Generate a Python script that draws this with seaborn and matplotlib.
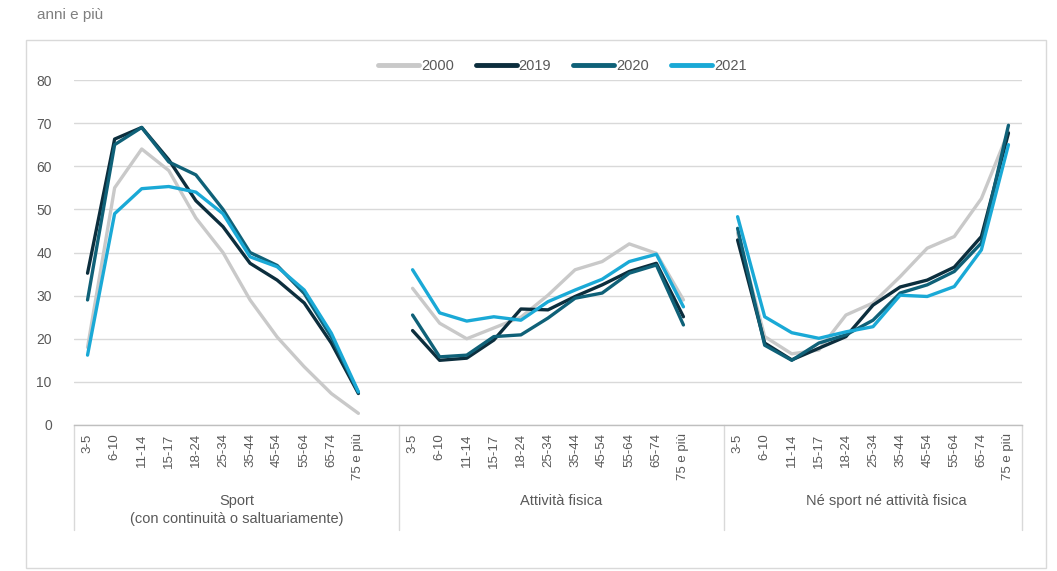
import matplotlib
matplotlib.use("Agg")
import matplotlib.pyplot as plt
import matplotlib.transforms as mtransforms
import seaborn as sns
import pandas as pd
import numpy as np

# ---------------- data ----------------
age_classes = ["3-5", "6-10", "11-14", "15-17", "18-24", "25-34",
               "35-44", "45-54", "55-64", "65-74", "75 e più"]
groups = ["Sport\n(con continuità o saltuariamente)",
          "Attività fisica",
          "Né sport né attività fisica"]
years = ["2000", "2019", "2020", "2021"]

sport_2000 = [18.0, 55.0, 64.0, 59.0, 48.0, 40.0, 29.0, 20.4, 13.5, 7.3, 2.7]
sport_2019 = [35.2, 66.3, 69.0, 61.5, 52.0, 46.0, 37.5, 33.6, 28.3, 19.0, 7.3]
sport_2020 = [29.0, 65.0, 69.0, 61.0, 58.0, 50.0, 40.0, 37.0, 30.5, 20.4, 7.5]
sport_2021 = [16.2, 49.0, 54.8, 55.3, 54.0, 49.0, 39.0, 36.7, 31.3, 21.3, 7.7]

fis_2000 = [31.7, 23.6, 20.0, 22.5, 25.0, 30.1, 36.0, 37.9, 42.0, 39.8, 29.0]
fis_2019 = [21.9, 15.0, 15.5, 19.7, 26.9, 26.7, 29.8, 32.5, 35.6, 37.5, 25.1]
fis_2020 = [25.5, 15.8, 16.2, 20.5, 20.9, 24.8, 29.4, 30.6, 35.2, 37.1, 23.2]
fis_2021 = [36.0, 26.0, 24.1, 25.1, 24.3, 28.6, 31.3, 33.8, 37.9, 39.6, 27.4]

ne_2000 = [44.5, 20.5, 16.5, 17.4, 25.5, 28.3, 34.4, 41.0, 43.7, 52.5, 68.0]
ne_2019 = [42.9, 19.0, 15.1, 17.8, 20.5, 27.8, 32.0, 33.6, 36.6, 43.7, 67.7]
ne_2020 = [45.6, 18.5, 15.0, 19.0, 20.9, 24.3, 30.6, 32.5, 35.6, 42.2, 69.5]
ne_2021 = [48.3, 25.1, 21.4, 20.1, 21.6, 22.8, 30.1, 29.8, 32.1, 40.6, 65.0]

y_ticks = [0, 10, 20, 30, 40, 50, 60, 70, 80]
title_text = "anni e più"

palette = {"2000": "#C9C9C9", "2019": "#0C2E3D", "2020": "#0F6178", "2021": "#1AA9D6"}

series = {
    0: [sport_2000, sport_2019, sport_2020, sport_2021],
    1: [fis_2000, fis_2019, fis_2020, fis_2021],
    2: [ne_2000, ne_2019, ne_2020, ne_2021],
}

slot = len(age_classes) + 1  # one blank category between groups
rows = []
for g, lists in series.items():
    for yr, vals in zip(years, lists):
        for i, v in enumerate(vals):
            rows.append({"pos": g * slot + i, "value": v, "year": yr,
                         "group": g, "age": age_classes[i]})
df = pd.DataFrame(rows)

# ---------------- figure ----------------
sns.set_theme(style="white")
plt.rcParams["font.family"] = ["Liberation Sans", "DejaVu Sans"]
txt_col = "#595959"

fig = plt.figure(figsize=(10.57, 5.71), dpi=100)
W, H = 1057, 571
ax = fig.add_axes([74 / W, 1 - 425 / H, (1022 - 74) / W, (425 - 80) / H])

# outer chart frame
fig.patches.append(plt.Rectangle((26 / W, 1 - 568 / H), (1046 - 26) / W, (568 - 40) / H,
                                 transform=fig.transFigure, fill=False,
                                 edgecolor="#D9D9D9", linewidth=1.0, zorder=0))

sns.lineplot(data=df, x="pos", y="value", hue="year", units="group",
             estimator=None, palette=palette, hue_order=years,
             linewidth=2.4, sort=False, ax=ax, legend=True)

ax.set_xlim(-0.5, 3 * slot - 1.5)
ax.set_ylim(0, 80)
ax.set_yticks(y_ticks)
ax.set_yticklabels([str(t) for t in y_ticks], fontsize=10, color=txt_col)
ax.yaxis.grid(True, color="#D9D9D9", linewidth=1.0)
ax.set_axisbelow(True)
for s in ["left", "right", "top"]:
    ax.spines[s].set_visible(False)
ax.spines["bottom"].set_color("#BFBFBF")
ax.spines["bottom"].set_linewidth(1.0)
ax.set_xlabel("")
ax.set_ylabel("")

xt = []
xl = []
for g in range(3):
    for i, a in enumerate(age_classes):
        xt.append(g * slot + i)
        xl.append(a)
ax.set_xticks(xt)
ax.set_xticklabels(xl, rotation=90, fontsize=9.5, color=txt_col)
ax.tick_params(axis="x", length=0, pad=6)
ax.tick_params(axis="y", length=0, pad=16)

# category separators and group labels
trans = mtransforms.blended_transform_factory(ax.transData, ax.transAxes)
bottom_frac = -(530 - 425) / (425 - 80)
for xb in [-0.5, slot - 0.5, 2 * slot - 0.5, 3 * slot - 1.5]:
    ax.plot([xb, xb], [0, bottom_frac], transform=trans, color="#D9D9D9",
            linewidth=1.0, clip_on=False)
label_y = -(494 - 425) / (425 - 80)
for g, name in enumerate(groups):
    ax.text(g * slot + 5.5, label_y, name, transform=trans, ha="center", va="top",
            fontsize=10.5, color=txt_col, linespacing=1.35)

# legend
leg = ax.legend(title=None, loc="center", bbox_to_anchor=(0.515, 1.04), ncol=4,
                frameon=False, handlelength=2.8, handletextpad=0.15,
                columnspacing=1.5, fontsize=10.5)
for line in leg.get_lines():
    line.set_linewidth(3.5)
for t in leg.get_texts():
    t.set_color(txt_col)

fig.text(37 / W, 1 - 15 / H, title_text, ha="left", va="center", fontsize=11,
         color="#7F7F7F")

fig.savefig("out.png", dpi=100, facecolor="white")
